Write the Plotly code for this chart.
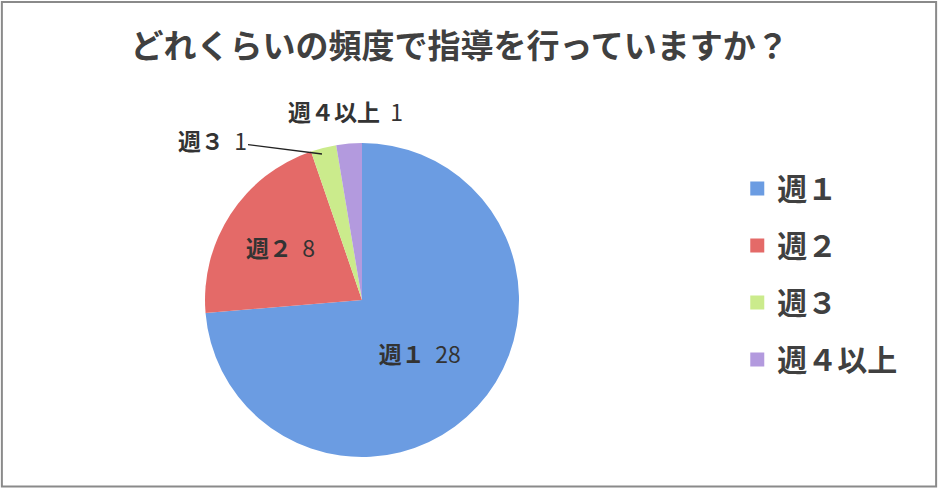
import plotly.graph_objects as go

# data
categories = ["週１", "週２", "週３", "週４以上"]
counts = [28, 8, 1, 1]
colors = ["#6b9ce2", "#e46a68", "#cbeb8c", "#b39ade"]
title_text = "どれくらいの頻度で指導を行っていますか？"

jp_font = "Noto Sans CJK JP"
W, H = 938, 488

fig = go.Figure()

# small slices get their labels as annotations (placed like the original)
fig.add_trace(go.Pie(
    labels=categories,
    values=counts,
    sort=False,
    direction="clockwise",
    rotation=0,
    marker=dict(colors=colors, line=dict(width=0)),
    texttemplate="<b>%{label}</b>  %{value}",
    textposition=["inside", "inside", "none", "none"],
    insidetextorientation="horizontal",
    textfont=dict(family=jp_font, size=23, color="#333333"),
    domain=dict(x=[(362 - 157) / W, (362 + 157) / W], y=[(188 - 157) / H, (188 + 157) / H]),
    showlegend=False,
    hoverinfo="label+value",
))

# legend entries (separate so the spacing can follow the original)
for i, (cat, col) in enumerate(zip(categories, colors)):
    fig.add_trace(go.Scatter(
        x=[None], y=[None], mode="markers", name=f"<b>{cat}</b>",
        legendgroup=f"g{i}",
        marker=dict(symbol="square", size=14, color=col),
    ))

lab_font = dict(family=jp_font, size=23, color="#333333")
annotations = [
    dict(
        text=f"<b>{categories[3]}</b>  {counts[3]}",
        xref="paper", yref="paper", x=345 / W, y=1 - 111 / H,
        xanchor="center", yanchor="middle",
        showarrow=False, font=lab_font,
    ),
    dict(
        text=f"<b>{categories[2]}</b>  {counts[2]}",
        xref="paper", yref="paper", x=322 / W, y=1 - 154 / H,
        ax=-110, ay=-14, showarrow=True, arrowhead=0,
        arrowwidth=1.3, arrowcolor="#222222", standoff=0,
        font=lab_font,
    ),
]

fig.update_layout(
    width=W, height=H,
    margin=dict(l=0, r=0, t=0, b=0),
    paper_bgcolor="white",
    plot_bgcolor="white",
    xaxis=dict(visible=False),
    yaxis=dict(visible=False),
    title=dict(
        text=f"<b>{title_text}</b>",
        x=0.49, xanchor="center", y=0.905, yanchor="middle",
        font=dict(family=jp_font, size=33, color="#404040"),
    ),
    legend=dict(
        x=0.786, y=0.667, xanchor="left", yanchor="top",
        font=dict(family=jp_font, size=30, color="#404040"),
        tracegroupgap=15,
        itemwidth=30,
        bgcolor="rgba(0,0,0,0)",
    ),
    annotations=annotations,
    shapes=[dict(
        type="rect", xref="paper", yref="paper",
        x0=0.002, x1=0.998, y0=0.003, y1=0.996,
        line=dict(color="#8a8a8a", width=2),
    )],
)

fig.write_html(
    "out.html",
    config={"displayModeBar": False},
    post_script="document.body.style.margin='0';",
)
